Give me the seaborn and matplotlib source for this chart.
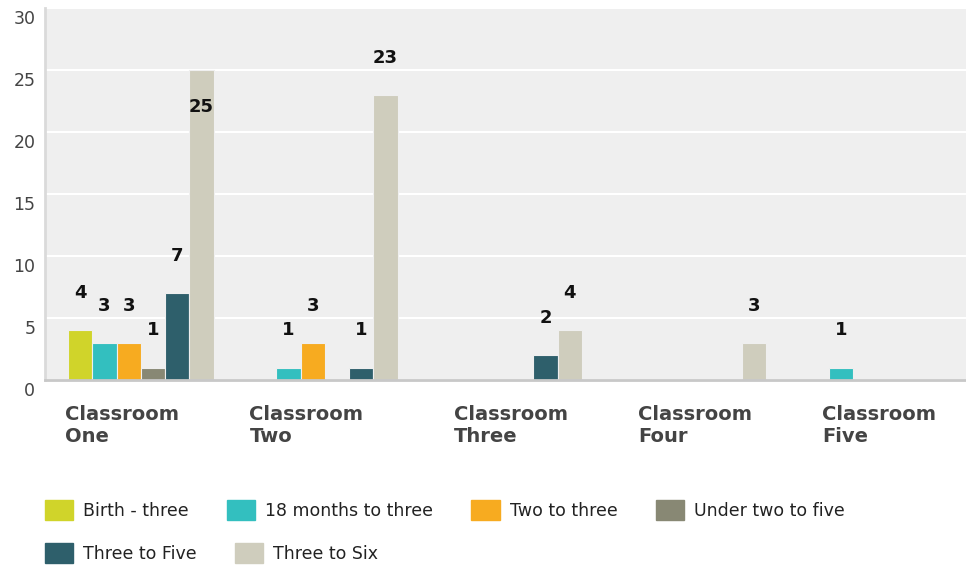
import numpy as np
import pandas as pd
import matplotlib
matplotlib.use('Agg')
import matplotlib.pyplot as plt
import matplotlib.transforms as mtransforms
from matplotlib.patches import Patch
import seaborn as sns

# data
classrooms = ['Classroom\nOne', 'Classroom\nTwo', 'Classroom\nThree', 'Classroom\nFour', 'Classroom\nFive']
groups = ['Birth - three', '18 months to three', 'Two to three', 'Under two to five',
          'Three to Five', 'Three to Six']
birth_three = [4, 0, 0, 0, 0]
months18_three = [3, 1, 0, 0, 1]
two_three = [3, 3, 0, 0, 0]
under_two_five = [1, 0, 0, 0, 0]
three_five = [7, 1, 2, 0, 0]
three_six = [25, 23, 4, 3, 0]
colors = ['#d0d42a', '#33bfbf', '#f7ab20', '#888874', '#2e5f6b', '#cfcdbd']

series = [birth_three, months18_three, two_three, under_two_five, three_five, three_six]
df = pd.DataFrame({g: s for g, s in zip(groups, series)})
df['Classroom'] = classrooms
df = df.melt(id_vars='Classroom', var_name='Group', value_name='Count')

sns.set_style('white')
plt.rcParams['font.family'] = ['DejaVu Sans']

fig = plt.figure(figsize=(9.66, 5.68), dpi=100)
ax = fig.add_axes([45 / 966, 1 - 380 / 568, 1 - 45 / 966, 372 / 568])
ax.set_facecolor('#efefef')

sns.barplot(data=df, x='Classroom', y='Count', hue='Group', order=classrooms,
            hue_order=groups, palette=colors, saturation=1, width=0.79,
            edgecolor='#efefef', linewidth=0.8, legend=False, ax=ax)

ax.set_ylim(0, 30)
ax.set_xlim(-0.52, 4.48)
ax.set_yticks(range(0, 31, 5))
ax.yaxis.grid(True, color='white', linewidth=1.5)
ax.set_axisbelow(True)
ax.tick_params(axis='y', length=0, pad=7, labelsize=12.5, labelcolor='#444444')
# tick labels sit a little below their gridlines in the original
shift = mtransforms.ScaledTranslation(0, -9 / 100, fig.dpi_scale_trans)
for lab in ax.get_yticklabels():
    lab.set_transform(lab.get_transform() + shift)
ax.set_xticks([])
ax.set_xlabel('')
ax.set_ylabel('')
for s in ['top', 'right']:
    ax.spines[s].set_visible(False)
ax.spines['left'].set_color('#dadada')
ax.spines['left'].set_linewidth(2)
ax.spines['bottom'].set_color('#c8c8c8')
ax.spines['bottom'].set_linewidth(2)

# value labels
for cont in ax.containers:
    for bar in cont:
        v = bar.get_height()
        if v <= 0:
            continue
        y = v + 3 if v + 3 < 27 else v - 3
        ax.text(bar.get_x() + bar.get_width() / 2, y, f'{int(v)}', ha='center',
                va='center', fontsize=13, fontweight='bold', color='#111111')

# category labels, left aligned under each group
label_offsets = [0.09, 0.09, 0.2, 0.2, 0.2]
for i, (lab, off) in enumerate(zip(classrooms, label_offsets)):
    ax.text(i - 0.5 + off, -25 / 372, lab, transform=ax.get_xaxis_transform(),
            ha='left', va='top', fontsize=14, fontweight='bold', color='#444444',
            linespacing=1.2)

# legend in two rows
handles = [Patch(facecolor=c, edgecolor=c, label=g) for g, c in zip(groups, colors)]
leg_kw = dict(frameon=False, fontsize=12.5, handlelength=1.62, handleheight=1.45,
              handletextpad=0.58, columnspacing=2.2, borderpad=0, borderaxespad=0,
              loc='center left')
leg1 = fig.legend(handles=handles[:4], ncol=4, bbox_to_anchor=(45 / 966, 1 - 510 / 568), **leg_kw)
leg2 = fig.legend(handles=handles[4:], ncol=2, bbox_to_anchor=(45 / 966, 1 - 553 / 568), **leg_kw)
for leg in (leg1, leg2):
    for t in leg.get_texts():
        t.set_color('#222222')

fig.savefig('out.png', dpi=100)
